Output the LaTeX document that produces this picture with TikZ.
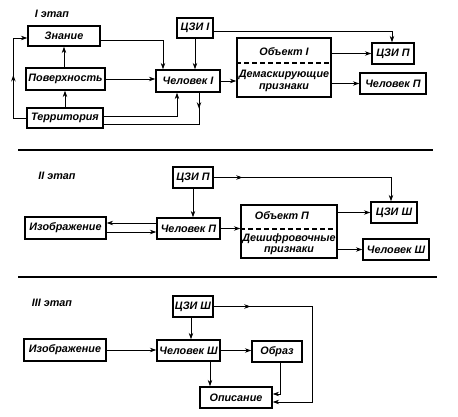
\documentclass[tikz,border=0pt]{standalone}
\usepackage{fontspec}
\setmainfont{Liberation Sans}
\usetikzlibrary{arrows.meta,decorations.markings,calc}
\begin{document}
\begin{tikzpicture}[x=1pt,y=-1pt,
  font=\fontsize{10.8}{12}\selectfont\bfseries\itshape,
  box/.style={draw,line width=1.3pt,inner sep=0pt,align=center},
  conn/.style={line width=0.9pt,-{Stealth[length=6.5pt,width=4.5pt]}},
  plain/.style={line width=0.9pt},
  midarrow/.style={postaction={decorate},decoration={markings,mark=at position #1 with {\arrow{Stealth[length=6.5pt,width=4.5pt]}}}},
  sep/.style={line width=1.3pt}]
\useasboundingbox (0,0) rectangle (458,417);
\fill[white] (0,0) rectangle (458,417);

% ---------- Stage I ----------
\node (lab1) at (52,14) {I этап};
\node[box,minimum width=72pt,minimum height=20pt] (znanie) at (64,36) {Знание};
\node[box,minimum width=79pt,minimum height=22pt] (poverh) at (65.5,79) {Поверхность};
\node[box,minimum width=76pt,minimum height=20pt] (terr) at (65,118) {Территория};
\node[box,minimum width=36pt,minimum height=20pt] (czi1) at (195,28) {ЦЗИ I};
\node[box,minimum width=64pt,minimum height=22pt] (chel1) at (188,81) {Человек I};
\node[box,minimum width=94pt,minimum height=59pt] (obj1) at (284,67.5) {};
\draw[line width=1.1pt,dash pattern=on 5pt off 3pt] (obj1.west |- 0,63) -- (obj1.east |- 0,63);
\node (obj1a) at (284,52) {Объект I};
\node (obj1b) at (284,81) [align=center,font=\fontsize{10.8}{12.5}\selectfont\bfseries\itshape] {Демаскирующие\\признаки};
\node[box,minimum width=42pt,minimum height=21pt] (czi2a) at (393,53.5) {ЦЗИ П};
\node[box,minimum width=66pt,minimum height=21pt] (chel2a) at (393,83.5) {Человек П};

\draw[conn] ([yshift=-4pt]znanie.east) -| ([xshift=-25pt]chel1.north);
\draw[conn] (czi1.south) -- (czi1.south |- chel1.north);
\draw[conn] (poverh.east) -- (poverh.east -| chel1.west);
\draw[conn] ([yshift=2pt]terr.east) -| ([xshift=-11pt]chel1.south);
\draw[plain,midarrow=16pt] ([xshift=11pt]chel1.south) |- ([yshift=-6pt]terr.east);
\draw[conn,midarrow=56pt] (terr.west) -- ++(-13,0) |- ([yshift=-2pt]znanie.west);
\draw[conn] (znanie.south |- poverh.north) -- (znanie.south);
\draw[conn] (terr.north) -- (terr.north |- poverh.south);
\draw[conn] ([yshift=-3pt]czi1.east) -| ([xshift=-1pt]czi2a.north);
\draw[conn] (chel1.east) -- (chel1.east -| obj1.west);
\draw[conn] (obj1.east |- czi2a.west) -- (czi2a.west);
\draw[conn] (obj1.east |- chel2a.west) -- (chel2a.west);

\coordinate (s1a) at (18,150); \coordinate (s1b) at (433,150);
\draw[sep] (s1a) -- (s1b);

% ---------- Stage II ----------
\node (lab2) at (57,176) {II этап};
\node[box,minimum width=40pt,minimum height=21pt] (czi2b) at (193,177.5) {ЦЗИ П};
\node[box,minimum width=81pt,minimum height=22pt] (izo2) at (65.5,228) {Изображение};
\node[box,minimum width=63pt,minimum height=21pt] (chel2b) at (188.5,228.5) {Человек П};
\node[box,minimum width=96pt,minimum height=53pt] (obj2) at (289,231.5) {};
\draw[line width=1.1pt,dash pattern=on 5pt off 3pt] (obj2.west |- 0,229) -- (obj2.east |- 0,229);
\node (obj2a) at (282,216) {Объект П};
\node (obj2b) at (289,244) [align=center,font=\fontsize{10.8}{11.5}\selectfont\bfseries\itshape] {Дешифровочные\\признаки};
\node[box,minimum width=46pt,minimum height=21pt] (czi3a) at (394,212.5) {ЦЗИ Ш};
\node[box,minimum width=66pt,minimum height=21pt] (chel3a) at (396,249.5) {Человек Ш};

\draw[conn] ([yshift=5.5pt]chel2b.west) -- ([yshift=5.5pt]chel2b.west -| izo2.east);
\draw[conn] ([yshift=-4pt]izo2.east) -- ([yshift=-4pt]izo2.east -| chel2b.west);
\draw[conn] (czi2b.south) -- (czi2b.south |- chel2b.north);
\draw[conn,midarrow=29pt] (czi2b.east) -| ([xshift=-3pt]czi3a.north);
\draw[conn] (chel2b.east) -- (chel2b.east -| obj2.west);
\draw[conn] (obj2.east |- czi3a.west) -- (czi3a.west);
\draw[conn] (obj2.east |- chel3a.west) -- (chel3a.west);

\coordinate (s2a) at (18,277); \coordinate (s2b) at (437,277);
\draw[sep] (s2a) -- (s2b);

% ---------- Stage III ----------
\node (lab3) at (52,303) {III этап};
\node[box,minimum width=40pt,minimum height=21pt] (czi3b) at (193,306.5) {ЦЗИ Ш};
\node[box,minimum width=82pt,minimum height=22pt] (izo3) at (65,350) {Изображение};
\node[box,minimum width=63pt,minimum height=21pt] (chel3b) at (188.5,350.5) {Человек Ш};
\node[box,minimum width=50pt,minimum height=21pt] (obraz) at (277,351.5) {Образ};
\node[box,minimum width=72pt,minimum height=21pt] (opis) at (236,397.5) {Описание};

\draw[conn] ([xshift=-2pt]czi3b.south) -- ([xshift=-2pt]czi3b.south |- chel3b.north);
\draw[conn,midarrow=37pt] (czi3b.east) -- ++(99,0) |- ([yshift=-4.5pt]opis.east);
\draw[conn] (izo3.east) -- (izo3.east -| chel3b.west);
\draw[conn] (chel3b.east) -- (chel3b.east -| obraz.west);
\draw[conn] ([xshift=21.5pt]chel3b.south) -- ([xshift=21.5pt]chel3b.south |- opis.north);
\draw[conn] ([xshift=3pt]obraz.south) |- ([yshift=3.5pt]opis.east);
\end{tikzpicture}
\end{document}
